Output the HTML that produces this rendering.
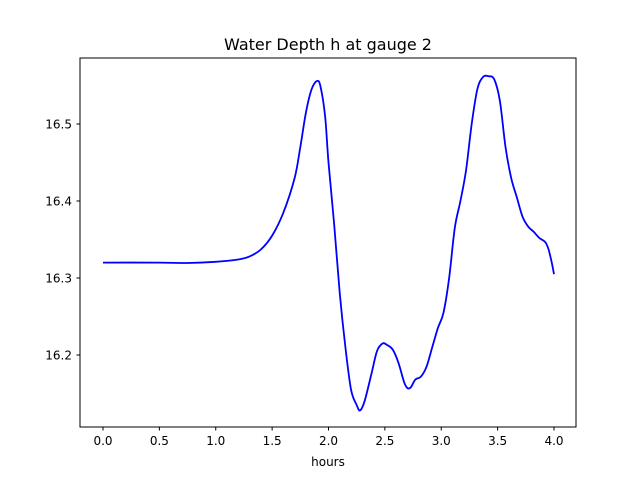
<!DOCTYPE html>
<html><head><meta charset="utf-8"><style>
body{margin:0;background:#fff;font-family:"Liberation Sans","DejaVu Sans",sans-serif}
svg text{font-family:"DejaVu Sans","Liberation Sans",sans-serif}
</style></head><body>
<svg id="chart" width="640" height="480">
<rect width="640" height="480" fill="#fff"/>
<text x="328" y="50" text-anchor="middle" font-size="16">Water Depth h at gauge 2</text>
<g id="xt"></g><g id="yt"></g>
<path id="line" fill="none" stroke="#0000ff" stroke-width="1.8" stroke-linejoin="round"/>
<rect x="80" y="58" width="496" height="369" fill="none" stroke="#000" stroke-width="1"/>
<text x="328" y="466" text-anchor="middle" font-size="12">hours</text>
</svg>
<script>
const hours=[0,0.5,0.75,1.0,1.2,1.3,1.4,1.5,1.6,1.7,1.75,1.8,1.85,1.9,1.93,1.97,2.0,2.05,2.1,2.15,2.2,2.25,2.28,2.32,2.38,2.43,2.48,2.52,2.57,2.62,2.67,2.7,2.73,2.77,2.82,2.87,2.92,2.97,3.02,3.07,3.12,3.17,3.22,3.27,3.32,3.37,3.42,3.47,3.52,3.57,3.62,3.67,3.72,3.77,3.82,3.87,3.92,3.95,3.98,4.0];
const depth=[16.320,16.320,16.3195,16.321,16.324,16.328,16.337,16.355,16.385,16.43,16.47,16.515,16.545,16.556,16.548,16.51,16.45,16.37,16.28,16.21,16.155,16.135,16.128,16.14,16.175,16.205,16.215,16.213,16.207,16.19,16.165,16.157,16.158,16.168,16.172,16.185,16.21,16.235,16.255,16.3,16.365,16.4,16.44,16.5,16.545,16.561,16.562,16.558,16.53,16.47,16.43,16.405,16.38,16.367,16.36,16.352,16.347,16.338,16.32,16.305];
const xTicks=[0,0.5,1.0,1.5,2.0,2.5,3.0,3.5,4.0];
const yTicks=[16.2,16.3,16.4,16.5];
const X=v=>103+v*112.75;
const Y=v=>355-(v-16.2)*770;
const ns="http://www.w3.org/2000/svg";
const P=hours.map((h,i)=>[X(h),Y(depth[i])]);
let d="M"+P[0][0].toFixed(2)+","+P[0][1].toFixed(2);
for(let i=0;i<P.length-1;i++){
 const p0=P[Math.max(0,i-1)],p1=P[i],p2=P[i+1],p3=P[Math.min(P.length-1,i+2)];
 const c1x=p1[0]+(p2[0]-p0[0])/6,c1y=p1[1]+(p2[1]-p0[1])/6;
 const c2x=p2[0]-(p3[0]-p1[0])/6,c2y=p2[1]-(p3[1]-p1[1])/6;
 d+="C"+c1x.toFixed(2)+","+c1y.toFixed(2)+" "+c2x.toFixed(2)+","+c2y.toFixed(2)+" "+p2[0].toFixed(2)+","+p2[1].toFixed(2);
}
document.getElementById('line').setAttribute('d',d);
const xt=document.getElementById('xt'),yt=document.getElementById('yt');
xTicks.forEach(t=>{
 const l=document.createElementNS(ns,'line');
 l.setAttribute('x1',X(t));l.setAttribute('x2',X(t));l.setAttribute('y1',427);l.setAttribute('y2',430.5);l.setAttribute('stroke','#000');
 
 
 xt.appendChild(l);
 const s=document.createElementNS(ns,'text');
 s.setAttribute('x',X(t));s.setAttribute('y',445);s.setAttribute('text-anchor','middle');s.setAttribute('font-size','12');
 s.textContent=t.toFixed(1);
 
 
 xt.appendChild(s);
});
yTicks.forEach(t=>{
 const l=document.createElementNS(ns,'line');
 l.setAttribute('x1',76.5);l.setAttribute('x2',80);l.setAttribute('y1',Y(t));l.setAttribute('y2',Y(t));l.setAttribute('stroke','#000');
 
 
 yt.appendChild(l);
 const s=document.createElementNS(ns,'text');
 s.setAttribute('x',72);s.setAttribute('y',Y(t)+4.5);s.setAttribute('text-anchor','end');s.setAttribute('font-size','12');
 s.textContent=t.toFixed(1);
 
 
 yt.appendChild(s);
});
</script>
</body></html>
